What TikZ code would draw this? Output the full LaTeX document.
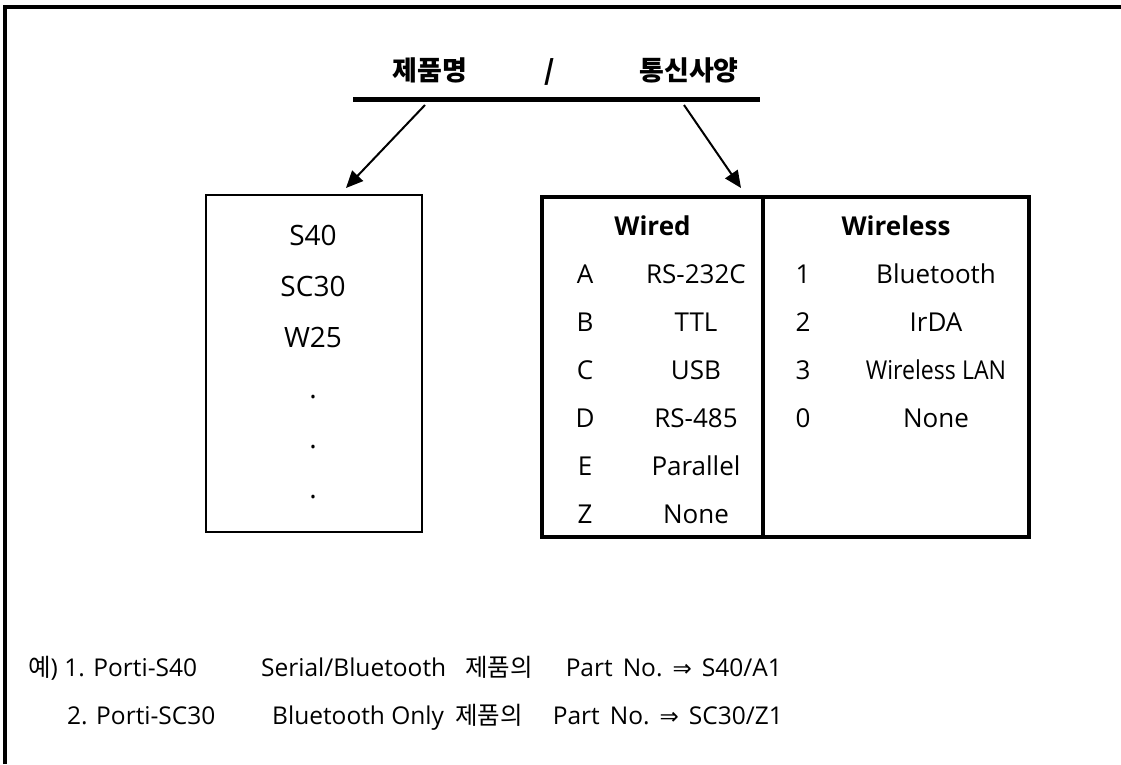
\documentclass[tikz,border=0pt]{standalone}
\usepackage{fontspec}
\setmainfont{Open Sans}
\newfontfamily\krfont{Noto Sans CJK KR}
\newfontfamily\symfont{DejaVu Sans}
\usetikzlibrary{arrows.meta,positioning}
\newcommand\wsp{\hspace{10pt}}
\newcommand\impl{{\symfont\fontsize{23}{26}\selectfont ⇒}}

\begin{document}
\begin{tikzpicture}[x=1pt,y=-1pt,
  title/.style={inner sep=0pt,anchor=base,font=\krfont\bfseries\fontsize{27}{30}\selectfont},
  cell/.style={inner sep=0pt,anchor=base,font=\fontsize{26}{30}\selectfont},
  head/.style={cell,font=\bfseries\fontsize{26}{30}\selectfont},
  item/.style={inner sep=0pt,anchor=base,font=\fontsize{28}{32}\selectfont},
  note/.style={inner sep=0pt,anchor=base west,font=\fontsize{24.5}{28}\selectfont},
  arr/.style={line width=2,-{Triangle[length=17pt,width=15pt]}}]

\useasboundingbox (0,0) rectangle (1121,764);

% frame of the page (top and left edge only)
\draw[line width=3.5] (5,764) -- (5,7) -- (1121,7);

% heading and its bar
\node[title] (name) at (430,80) {제품명};
\node[title] (slash) at (550,80) {/};
\node[title] (spec) at (689,80) {통신사양};
\coordinate (barL) at (353,99);
\coordinate (barR) at (760,99);
\draw[line width=5] (barL) -- (barR);

% the two boxes
\node[draw,line width=2,inner sep=0pt,minimum width=216,minimum height=337] (prodbox) at (314,363.5) {};
\node[draw,line width=3.5,inner sep=0pt,minimum width=221,minimum height=340] (wiredbox) at (652.5,367) {};
\node[draw,line width=3.5,inner sep=0pt,minimum width=266,minimum height=340] (wirelessbox) at (896,367) {};

% arrows from the bar down to the boxes
\coordinate (nameFrom) at (425,105);
\coordinate (nameTo) at (346,188);
\coordinate (specFrom) at (684,105);
\coordinate (specTo) at (741,188);
\draw[arr] (nameFrom) -- (nameTo);
\draw[arr] (specFrom) -- (specTo);

% product names
\foreach \p [count=\ni] in {S40,SC30,W25}
  \node[item] (prod\ni) at (313,{194+\ni*51}) {\p};
\foreach \ni in {1,2,3}
  \node[item] (dot\ni) at (313,{348+\ni*50}) {.};

% wired column
\def\wired{A/RS-232C,B/TTL,C/USB,D/RS-485,E/Parallel,Z/None}
\node[head] (wiredhead) at (652.5,235) {Wired};
\foreach \k/\n [count=\ni] in \wired
{
  \node[cell] (wk\ni) at (585,{235+\ni*48}) {\k};
  \node[cell] (wn\ni) at (696,{235+\ni*48}) {\n};
}

% wireless column
\def\wireless{1/Bluetooth,2/IrDA,3/{\scalebox{0.89}[1]{Wireless LAN}},0/None}
\node[head] (wirelesshead) at (896,235) {Wireless};
\foreach \k/\n [count=\ni] in \wireless
{
  \node[cell] (lk\ni) at (803,{235+\ni*48}) {\k};
  \node[cell] (ln\ni) at (936,{235+\ni*48}) {\n};
}

% examples
\node[note] (ex1a) at (28,676) {{\krfont 예}) 1. Porti-S40};
\node[note] (ex1b) at (261,676) {Serial/Bluetooth};
\node[note] (ex1c) at (465,676) {\krfont 제품의};
\node[note,anchor=base east] (ex1d) at (782,676) {Part\wsp No.\wsp\impl\wsp S40/A1};
\node[note] (ex2a) at (67,724) {2. Porti-SC30};
\node[note] (ex2b) at (272,724) {Bluetooth Only};
\node[note] (ex2c) at (455,724) {\krfont 제품의};
\node[note,anchor=base east] (ex2d) at (783,724) {Part\wsp No.\wsp\impl\wsp SC30/Z1};
\end{tikzpicture}
\end{document}
